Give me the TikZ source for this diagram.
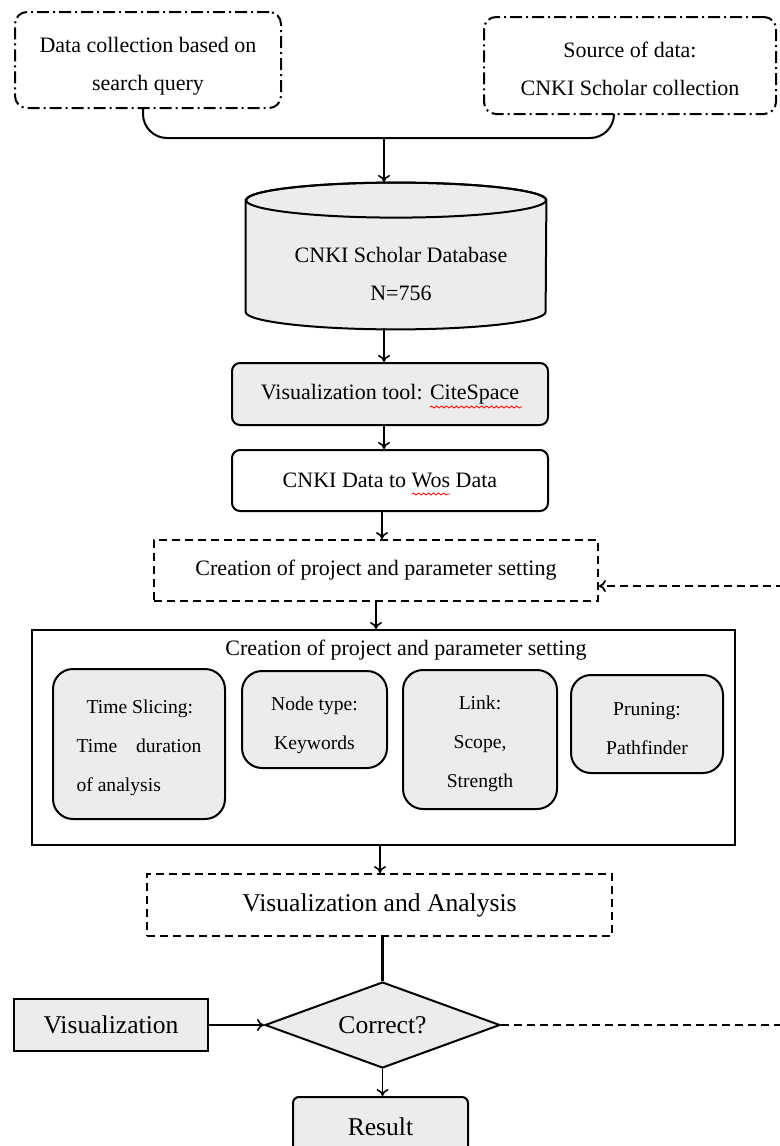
\documentclass[tikz,border=0pt]{standalone}
\usepackage{fontspec}
\setmainfont{Liberation Serif}
\usetikzlibrary{arrows.meta,shapes.geometric,decorations.pathmorphing}
\definecolor{boxgray}{RGB}{236,236,236}
\begin{document}
\begin{tikzpicture}[x=0.5pt,y=-0.5pt,>={To[length=3.5pt,width=6pt]},
	txt/.style={align=center,font=\fontsize{11}{19}\selectfont},
	small/.style={align=center,font=\fontsize{9.8}{19.5}\selectfont},
	big/.style={align=center,font=\fontsize{12.8}{15}\selectfont},
	dashdot/.style={draw,line width=1pt,rounded corners=6pt,dash pattern=on 6pt off 2pt on 1pt off 2pt},
	dashbox/.style={draw,line width=0.9pt,dash pattern=on 4pt off 2.5pt},
	graybox/.style={draw,line width=1pt,fill=boxgray,rounded corners=4pt},
	whitebox/.style={draw,line width=1pt,rounded corners=4pt},
	param/.style={draw,line width=1pt,fill=boxgray,rounded corners=10pt,small},
	wavy/.style={red,line width=0.4pt,decorate,decoration={snake,amplitude=0.5pt,segment length=2.5pt}},
	flow/.style={->,line width=0.8pt}]
	\useasboundingbox (0,0) rectangle (780,1146);
	\node [dashdot,txt,minimum width=133pt,minimum height=48pt] (query) at (148,60) {\rule{0pt}{14pt}Data collection based on\\search query};
	\node [dashdot,txt,minimum width=146pt,minimum height=48.5pt] (source) at (630,65.5) {\rule{0pt}{11.6pt}Source of data:\\CNKI Scholar collection};
	\coordinate (join) at (384,138);
	\coordinate (dbtop) at (384,182);
	\coordinate (dbbot) at (384,328);
	\node [minimum width=150pt,minimum height=55.5pt,inner sep=0pt] (db) at (396,256) {};
	\filldraw [fill=boxgray,line width=1pt] (db.north west) -- (db.south west)
		arc [start angle=180,end angle=360,x radius=75pt,y radius=8.75pt] -- (db.north east)
		arc [start angle=0,end angle=180,x radius=75pt,y radius=8.75pt] -- cycle;
	\draw [line width=1pt] (db.north) ellipse [x radius=75pt,y radius=8.75pt];
	\node [txt] (dbtext) at (401,273.5) {CNKI Scholar Database\\N=756};
	\node [graybox,txt,minimum width=158pt,minimum height=31pt] (tool) at (390,394) {Visualization tool: CiteSpace};
	\node [whitebox,txt,minimum width=158pt,minimum height=30.5pt] (convert) at (390,480.5) {CNKI Data to Wos Data};
	\node [dashbox,txt,minimum width=222pt,minimum height=30.5pt] (setup) at (376,570.5) {Creation of project and parameter setting};
	\node [draw,line width=1pt,minimum width=351.5pt,minimum height=107.5pt] (params) at (383.5,737.5) {};
	\node [txt] (paramtitle) at (406,650) {Creation of project and parameter setting};
	\node [param,align=left,minimum width=86pt,minimum height=75pt] (slice) at (139,744) {\rule{0pt}{10.5pt}\hspace*{5pt}Time Slicing:\\Time\hspace{7pt} duration\\of analysis};
	\node [param,minimum width=72.5pt,minimum height=48.5pt] (ntype) at (314.5,719.5) {\rule{0pt}{12.3pt}Node type:\\Keywords};
	\node [param,minimum width=77pt,minimum height=69.5pt] (link) at (480,739.5) {\rule{0pt}{11.3pt}Link:\\Scope,\\Strength};
	\node [param,minimum width=76pt,minimum height=49pt] (prune) at (647,724) {\rule{0pt}{11pt}Pruning:\\Pathfinder};
	\node [dashbox,big,minimum width=232.5pt,minimum height=31pt] (vis) at (379.5,905) {Visualization and Analysis};
	\node [diamond,draw,line width=1pt,fill=boxgray,big,inner sep=0pt,aspect=2.7,minimum width=117.5pt,minimum height=43pt] (check) at (382.5,1025) {Correct?};
	\node [draw,line width=1pt,fill=boxgray,big,minimum width=97pt,minimum height=26pt] (visual) at (111,1025) {Visualization};
	\node [graybox,big,rounded corners=3pt,minimum width=87.5pt,minimum height=30pt] (result) at (380.5,1127) {Result};
	\coordinate (loop) at (800,1025);
	\draw [line width=1pt,rounded corners=12pt] ([xshift=-2.5pt]query.south) |- (join) -| ([xshift=-8pt]source.south);
	\draw [flow] (join) -- (dbtop);
	\draw [flow] (dbbot) -- (dbbot |- tool.north);
	\draw [flow] ([xshift=-3pt]tool.south) -- ([xshift=-3pt]convert.north);
	\draw [flow] ([xshift=-4pt]convert.south) -- ([xshift=-4pt]convert.south |- setup.north);
	\draw [flow] (setup.south) -- (setup.south |- params.north);
	\draw [flow] ([xshift=-1.75pt]params.south) -- ([xshift=-1.75pt]params.south |- vis.north);
	\draw [line width=1.2pt] (vis.south -| check.north) -- (check.north);
	\draw [flow] (visual.east) -- (check.west);
	\draw [flow] (check.south) -- (result.north -| check.south);
	\draw [dashbox,->] (check.east) -- (loop) |- ([yshift=-7.75pt]setup.east);
	\draw [wavy] (430,407) -- (522,407);
	\draw [wavy] (412,494) -- (450,494);
\end{tikzpicture}
\end{document}
